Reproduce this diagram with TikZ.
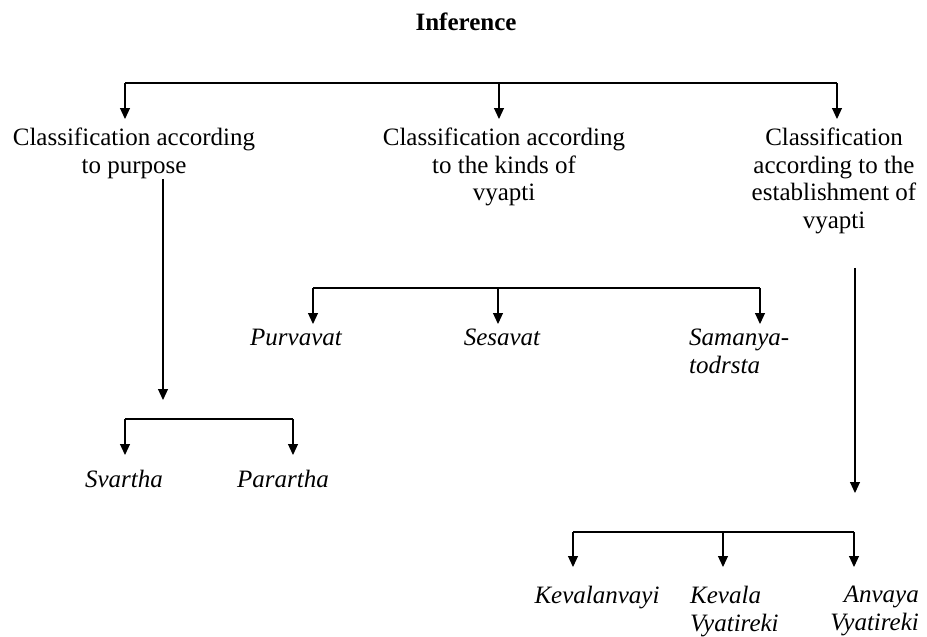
\documentclass[tikz,border=0pt]{standalone}
\usepackage{fontspec}
\setmainfont{Liberation Serif}
\usetikzlibrary{arrows.meta,positioning}
\tikzset{
  txt/.style={inner sep=0pt, align=center, font=\fontsize{25}{27.5}\selectfont},
  head/.style={inner sep=0pt, font=\fontsize{25}{27.5}\selectfont\bfseries},
  itl/.style={inner sep=0pt, align=center, font=\fontsize{25}{28}\selectfont\itshape},
  bar/.style={line width=1.1pt},
  arr/.style={-{Triangle[length=11pt,width=10pt]}, line width=1.1pt},
}

\begin{document}
\begin{tikzpicture}[x=1pt,y=-1pt]
  \useasboundingbox (0,0) rectangle (927,637);
  % heading and first level
  \node[head, anchor=north] (infer) at (466,13) {Inference};
  \node[txt, anchor=north] (cls1) at (134,128) {Classification according\\to purpose};
  \node[txt, anchor=north] (cls2) at (504,128) {Classification according\\to the kinds of\\vyapti};
  \node[txt, anchor=north] (cls3) at (834,128) {Classification\\according to the\\establishment of\\vyapti};
  \coordinate (top1) at (125,83);
  \coordinate (top2) at (499,83);
  \coordinate (top3) at (837,83);
  \draw[bar] (top1) -- (top3);
  \foreach \c/\n in {top1/cls1,top2/cls2,top3/cls3}
    \draw[arr, shorten >=9pt] (\c) -- (\c |- \n.north);
  % down links
  \coordinate (dn1) at (163,400);
  \coordinate (dn3) at (855,493);
  \draw[arr] (cls1.south -| dn1) -- (dn1);
  \draw[arr, shorten <=34pt] (cls3.south -| dn3) -- (dn3);
  % kinds of vyapti
  \node[itl, anchor=north] (purva) at (296,329) {Purvavat};
  \node[itl, anchor=north] (sesa) at (502,329) {Sesavat};
  \node[itl, anchor=north west, align=left] (saman) at (689,329) {Samanya-\\todrsta};
  \coordinate (k1) at (313,288);
  \coordinate (k2) at (498,288);
  \coordinate (k3) at (760,288);
  \draw[bar] (k1) -- (k3);
  \foreach \c/\n in {k1/purva,k2/sesa,k3/saman}
    \draw[arr, shorten >=5pt] (\c) -- (\c |- \n.north);
  % purpose
  \node[itl, anchor=north] (svar) at (124,470) {Svartha};
  \node[itl, anchor=north] (parar) at (283,470) {Parartha};
  \coordinate (pu1) at (125,419);
  \coordinate (pu2) at (293,419);
  \draw[bar] (pu1) -- (pu2);
  \foreach \c/\n in {pu1/svar,pu2/parar}
    \draw[arr, shorten >=15pt] (\c) -- (\c |- \n.north);
  % establishment of vyapti
  \node[itl, anchor=north] (kevan) at (597,586) {Kevalanvayi};
  \node[itl, anchor=north west, align=left] (kevvy) at (690,586) {Kevala\\Vyatireki};
  \node[itl, anchor=north east, align=right] (anvvy) at (919,586) {Anvaya\\Vyatireki};
  \coordinate (e1) at (573,532);
  \coordinate (e2) at (723,532);
  \coordinate (e3) at (854,532);
  \draw[bar] (e1) -- (e3);
  \foreach \c/\n in {e1/kevan,e2/kevvy,e3/anvvy}
    \draw[arr, shorten >=19pt] (\c) -- (\c |- \n.north);
\end{tikzpicture}
\end{document}
